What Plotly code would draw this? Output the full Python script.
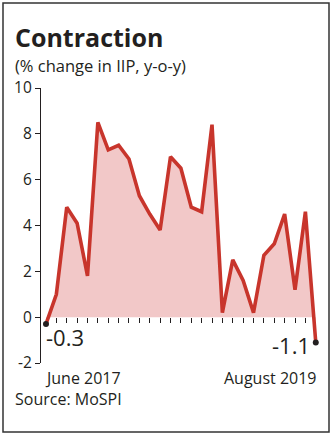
import plotly.graph_objects as go

# Monthly IIP growth, June 2017 – August 2019 (% y-o-y)
months = list(range(27))
iip_growth = [-0.3, 1.0, 4.8, 4.1, 1.8, 8.5, 7.3, 7.5, 6.9, 5.3, 4.5, 3.8,
              7.0, 6.5, 4.8, 4.6, 8.4, 0.2, 2.5, 1.6, 0.2, 2.7, 3.2, 4.5,
              1.2, 4.6, -1.1]
y_ticks = [-2, 0, 2, 4, 6, 8, 10]
start_label = "June 2017"
end_label = "August 2019"

RED = "#c8352c"
FILL = "rgba(222,110,110,0.38)"
INK = "#231f20"
FONT = "Open Sans"

fig = go.Figure()

fig.add_trace(go.Scatter(
    x=months, y=iip_growth, mode="lines",
    line=dict(color=RED, width=3.6),
    fill="tozeroy", fillcolor=FILL,
    hoverinfo="skip", showlegend=False,
))

# End-point dots
ends = [0, len(months) - 1]
fig.add_trace(go.Scatter(
    x=[months[i] for i in ends], y=[iip_growth[i] for i in ends],
    mode="markers", marker=dict(color=INK, size=6),
    hoverinfo="skip", showlegend=False,
))

# Zero baseline running to the last ticked month
fig.add_shape(type="line", xref="x", yref="y", layer="below",
              x0=-0.48, x1=months[-2], y0=0, y1=0,
              line=dict(color=INK, width=1.3))

ymin, ymax = y_ticks[0], y_ticks[-1]
fig.update_layout(
    width=332, height=438,
    margin=dict(l=41, r=10, t=88, b=75),
    paper_bgcolor="white", plot_bgcolor="white",
    font=dict(family=FONT, color=INK, size=15),
    xaxis=dict(
        range=[-0.48, 26.6], showgrid=False, zeroline=False, showline=False,
        anchor="free", position=(0 - ymin) / (ymax - ymin),
        tickmode="array", tickvals=months[1:-1], ticks="outside",
        ticklen=5, tickwidth=1.2, tickcolor=INK, showticklabels=False,
    ),
    yaxis=dict(
        range=[ymin, ymax], showgrid=False, zeroline=False,
        showline=True, linecolor=INK, linewidth=1.3,
        tickmode="array", tickvals=y_ticks,
        ticktext=[str(v) for v in y_ticks],
        ticks="outside", ticklen=5, tickwidth=1.2, tickcolor=INK,
        tickfont=dict(family=FONT, size=15.5, color=INK),
    ),
    shapes=[dict(type="rect", xref="paper", yref="paper",
                 x0=-38 / 281, x1=1 + 7 / 281, y0=-69 / 275, y1=1 + 85 / 275,
                 line=dict(color="#333", width=1.5))],
)

annos = [
    dict(text="<b>Contraction</b>", x=13, y=37, size=25, anchor="left"),
    dict(text="(% change in IIP, y-o-y)", x=13, y=66, size=16.5, anchor="left"),
    dict(text=start_label, x=43, y=378, size=16, anchor="left"),
    dict(text=end_label, x=319, y=378, size=16, anchor="right"),
    dict(text="Source: MoSPI", x=13, y=399, size=16, anchor="left"),
]
for a in annos:
    fig.add_annotation(
        text=a["text"], xref="paper", yref="paper",
        x=(a["x"] - 41) / 281, y=1 - (a["y"] - 88) / 275,
        xanchor=a["anchor"], yanchor="middle", showarrow=False,
        font=dict(family=FONT, size=a["size"], color=INK),
    )

# Value labels at the end points
fig.add_annotation(text=f"{iip_growth[0]}", x=months[0], y=iip_growth[0],
                   xref="x", yref="y", xanchor="left", yanchor="middle",
                   xshift=-2, yshift=-13, showarrow=False,
                   font=dict(family=FONT, size=22, color=INK))
fig.add_annotation(text=f"{iip_growth[-1]}", x=months[-1], y=iip_growth[-1],
                   xref="x", yref="y", xanchor="right", yanchor="middle",
                   xshift=-4, yshift=-3, showarrow=False,
                   font=dict(family=FONT, size=22, color=INK))

fig.write_html("out.html")
